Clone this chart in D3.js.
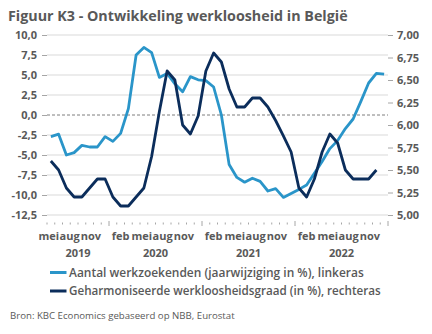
<!DOCTYPE html>
<html>
<head>
<meta charset="utf-8">
<script src="https://cdn.jsdelivr.net/npm/d3@7"></script>
<style>
  html, body { margin: 0; padding: 0; background: #ffffff; }
  svg { display: block; }
  text { font-family: "Open Sans", "Noto Sans", sans-serif; fill: #595959; }
</style>
</head>
<body>
<svg id="chart" width="432" height="334"></svg>
<script>
// Months covered by the chart: May 2019 through December 2022
const monthNames = ["jan", "feb", "mrt", "apr", "mei", "jun", "jul", "aug", "sep", "okt", "nov", "dec"];
const years = [2019, 2020, 2021, 2022];
const firstMonth = 4; // May 2019

// Job seekers, year-on-year change in % (left axis)
const jobSeekers = [
  -2.7, -2.4, -5.0, -4.7, -3.8, -4.0, -4.0, -2.7,
  -3.3, -2.3, 0.8, 7.5, 8.45, 7.8, 4.7, 5.2, 3.9, 2.9, 4.8, 4.4, 4.3, 3.5, 0.0, -6.2,
  -7.8, -8.4, -7.9, -8.3, -9.5, -9.2, -10.3, -9.8, -9.3, -8.75, -7.3, -5.8,
  -4.2, -3.2, -1.7, -0.5, 1.7, 4.0, 5.2, 5.1
];

// Harmonised unemployment rate in % (right axis)
const unemploymentRate = [
  5.6, 5.5, 5.3, 5.2, 5.2, 5.3, 5.4, 5.4,
  5.2, 5.1, 5.1, 5.2, 5.3, 5.65, 6.15, 6.6, 6.5, 6.0, 5.9, 6.1, 6.6, 6.8, 6.7, 6.4,
  6.2, 6.2, 6.3, 6.3, 6.2, 6.05, 5.88, 5.7, 5.3, 5.2, 5.4, 5.7,
  5.9, 5.8, 5.5, 5.4, 5.4, 5.4, 5.5
];

const leftTicks = [-12.5, -10, -7.5, -5, -2.5, 0, 2.5, 5, 7.5, 10];
const rightTicks = [5.0, 5.25, 5.5, 5.75, 6.0, 6.25, 6.5, 6.75, 7.0];

const seriesNames = [
  "Aantal werkzoekenden (jaarwijziging in %), linkeras",
  "Geharmoniseerde werkloosheidsgraad (in %), rechteras"
];
const titleText = "Figuur K3 - Ontwikkeling werkloosheid in België";
const sourceText = "Bron: KBC Economics gebaseerd op NBB, Eurostat";

// Category list: one entry per month
const categories = [];
years.forEach(y => {
  monthNames.forEach((m, mi) => {
    if (y === years[0] && mi < firstMonth) return;
    categories.push({ key: y + "-" + (mi + 1), year: y, month: mi, label: m });
  });
});

const colLight = "#2a95c9";
const colDark = "#0b2d5b";
const textCol = "#595959";

const svg = d3.select("#chart");
const plot = { left: 47, right: 388, top: 35, bottom: 215 };

const x = d3.scaleBand().domain(categories.map(c => c.key)).range([plot.left, plot.right]);
const yL = d3.scaleLinear().domain([-12.5, 10]).range([plot.bottom, plot.top]);
const yR = d3.scaleLinear().domain([5, 7]).range([plot.bottom, plot.top]);

const commaFmt = (spec) => (d) => d3.format(spec)(d).replace("−", "-").replace(".", ",");

// Fit a text element to a target width by scaling its font size
function fitWidth(sel, w) {
  const node = sel.node();
  const cur = node.getComputedTextLength();
  const fs = parseFloat(sel.style("font-size"));
  if (cur > 0) sel.style("font-size", (fs * w / cur) + "px");
}

// Title
svg.append("text")
  .attr("x", 8).attr("y", 20.5)
  .style("font-size", "14px").style("font-weight", 700)
  .text(titleText)
  .call(fitWidth, 340);

// Horizontal gridlines
svg.append("g").selectAll("line")
  .data(leftTicks.filter(d => d !== 0))
  .join("line")
  .attr("x1", plot.left).attr("x2", plot.right)
  .attr("y1", d => yL(d)).attr("y2", d => yL(d))
  .attr("stroke", "#d9d9d9").attr("stroke-width", 1);

// Zero line (dashed)
svg.append("line")
  .attr("x1", plot.left).attr("x2", plot.right)
  .attr("y1", yL(0)).attr("y2", yL(0))
  .attr("stroke", "#7f7f7f").attr("stroke-width", 1)
  .attr("stroke-dasharray", "3,2");

// Left axis
const gL = svg.append("g")
  .attr("transform", `translate(${plot.left},0)`)
  .call(d3.axisLeft(yL).tickValues(leftTicks).tickFormat(commaFmt(".1f")).tickSize(5).tickPadding(5));
gL.select(".domain").remove();
gL.selectAll(".tick line").attr("stroke", "#a6a6a6");
gL.selectAll(".tick text")
  .attr("fill", textCol).style("font-size", "11px").style("font-weight", 700)
  .style("font-family", '"Open Sans", sans-serif');

// Right axis
const gR = svg.append("g")
  .attr("transform", `translate(${plot.right},0)`)
  .call(d3.axisRight(yR).tickValues(rightTicks).tickFormat(commaFmt(".2f")).tickSize(5).tickPadding(4));
gR.select(".domain").remove();
gR.selectAll(".tick line").attr("stroke", "#a6a6a6");
gR.selectAll(".tick text")
  .attr("fill", textCol).style("font-size", "11px").style("font-weight", 700)
  .style("font-family", '"Open Sans", sans-serif');

// Category axis: monthly tick marks, longer marks between years
const step = x.step();
const boundaries = d3.range(categories.length + 1).map(i => ({
  pos: plot.left + i * step,
  major: i === categories.length || (i > 0 && categories[i].month === 0)
}));
svg.append("g").selectAll("line")
  .data(boundaries)
  .join("line")
  .attr("x1", d => d.pos).attr("x2", d => d.pos)
  .attr("y1", d => d.major ? 221 : 222.5)
  .attr("y2", d => d.major ? 226 : 224.5)
  .attr("stroke", "#a6a6a6").attr("stroke-width", 1);

// Month labels every third month
const labelShift = { mei: -2, aug: -4.5, nov: -6.5, feb: 0 };
svg.append("g").selectAll("text")
  .data(categories.filter((c, i) => i % 3 === 0))
  .join("text")
  .attr("x", d => x(d.key) + x.bandwidth() / 2 + (labelShift[d.label] || 0))
  .attr("y", 239.5)
  .attr("text-anchor", "middle")
  .style("font-size", "11px").style("font-weight", 700)
  .text(d => d.label);

// Year labels centred under each year's months
svg.append("g").selectAll("text")
  .data(years)
  .join("text")
  .attr("x", yr => {
    const cs = categories.filter(c => c.year === yr);
    return (x(cs[0].key) + x(cs[cs.length - 1].key) + step) / 2;
  })
  .attr("y", 257)
  .attr("text-anchor", "middle")
  .style("font-size", "11px").style("font-weight", 700)
  .text(yr => yr);

// Series lines
const lineL = d3.line().x((d, i) => x(categories[i].key) + x.bandwidth() / 2).y(d => yL(d));
const lineR = d3.line().x((d, i) => x(categories[i].key) + x.bandwidth() / 2).y(d => yR(d));

svg.append("path")
  .datum(jobSeekers)
  .attr("d", lineL)
  .attr("fill", "none").attr("stroke", colLight).attr("stroke-width", 2.8)
  .attr("stroke-linejoin", "round");

svg.append("path")
  .datum(unemploymentRate)
  .attr("d", lineR)
  .attr("fill", "none").attr("stroke", colDark).attr("stroke-width", 2.8)
  .attr("stroke-linejoin", "round");

// Legend
const legend = svg.append("g");
const legendItems = [
  { name: seriesNames[0], color: colLight, y: 272.5, w: 295 },
  { name: seriesNames[1], color: colDark, y: 291, w: 312 }
];
legendItems.forEach(it => {
  legend.append("line")
    .attr("x1", 50).attr("x2", 66.5)
    .attr("y1", it.y).attr("y2", it.y)
    .attr("stroke", it.color).attr("stroke-width", 3);
  legend.append("text")
    .attr("x", 69).attr("y", it.y + 4.2)
    .style("font-size", "12px").style("font-weight", 600)
    .text(it.name)
    .call(fitWidth, it.w);
});

// Source note
svg.append("text")
  .attr("x", 10).attr("y", 319)
  .style("font-size", "10px").style("font-weight", 400)
  .style("font-family", '"Open Sans", sans-serif')
  .text(sourceText)
  .call(fitWidth, 225);
</script>
</body>
</html>
